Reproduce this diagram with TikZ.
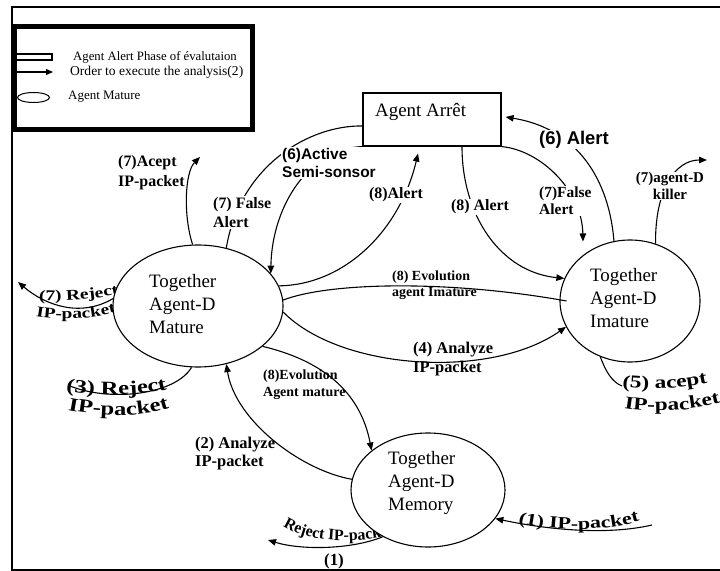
\documentclass[tikz,border=0pt]{standalone}
\usepackage{fontspec}
\setmainfont{Liberation Serif}
\newfontfamily\lsans{Liberation Sans}
\newfontfamily\wideserif[FakeStretch=1.3]{Liberation Serif}
\usetikzlibrary{arrows.meta,shapes.geometric,decorations.text}
\begin{document}
\begin{tikzpicture}[x=1bp,y=-1bp,
  every node/.style={inner sep=1bp},
  ln/.style={draw, line width=1.1bp},
  conn/.style={ln, -{Triangle[length=8bp,width=6.5bp]}},
  oval/.style={draw, ellipse, line width=1.1bp, fill=white, inner sep=0pt},
  nodetext/.style={font=\fontsize{19}{23}\selectfont, align=left, anchor=west},
  lbl/.style={font=\bfseries\fontsize{16}{19}\selectfont, align=left},
  wlbl/.style={lbl, fill=white},
  legtext/.style={anchor=west, font=\fontsize{13}{14}\selectfont},
]
\useasboundingbox (0,0) rectangle (720,571);
% outer frame
\draw[line width=2bp] (720,7.5) -- (12,7.5) -- (12,570) -- (720,570);

% warped texts (drawn before the ovals that hide their ends)
\path[decorate, decoration={text along path, text={|\wideserif\bfseries\fontsize{15}{15}\selectfont|(7) Reject}}]
  (39,300) .. controls (65,302) and (100,300) .. (135,290);
\path[decorate, decoration={text along path, text={|\wideserif\bfseries\fontsize{15}{15}\selectfont|IP-packet}}]
  (36,316) .. controls (65,321) and (100,320) .. (135,306);
\path[decorate, decoration={text along path, text={|\bfseries\fontsize{16}{16}\selectfont|Reject IP-packet}}]
  (283,526) .. controls (305,541) and (350,546) .. (400,533);

% ovals
\node[oval, minimum width=170bp, minimum height=122bp] (mat) at (198,306) {};
\node[oval, minimum width=140bp, minimum height=122bp] (ima) at (630,301) {};
\node[oval, minimum width=154bp, minimum height=114bp] (mem) at (428,490) {};
\node[nodetext] (matT) at (148,304) {Together\\Agent-D\\Mature};
\node[nodetext] (imaT) at (589,298) {Together\\Agent-D\\Imature};
\node[nodetext] (memT) at (387,483) {Together\\Agent-D\\Memory};

% Agent Arret box
\node[draw, line width=1.2bp, minimum width=138bp, minimum height=53bp, inner sep=0pt] (stop) at (432,119.5) {};
\node[anchor=west, font=\fontsize{19}{21}\selectfont] (stopT) at (374,112) {Agent Arrêt};

% other warped texts
\path[decorate, decoration={text along path, text={|\wideserif\bfseries\fontsize{19}{19}\selectfont|(3) Reject}}]
  (66,391) .. controls (110,397) and (160,397) .. (192,380);
\path[decorate, decoration={text along path, text={|\wideserif\bfseries\fontsize{19}{19}\selectfont|IP-packet}}]
  (68,410) .. controls (110,418) and (150,418) .. (185,402);
\path[decorate, decoration={text along path, text={|\wideserif\bfseries\fontsize{18}{18}\selectfont|(5) acept}}]
  (622,387) .. controls (655,391) and (695,389) .. (735,376);
\path[decorate, decoration={text along path, text={|\wideserif\bfseries\fontsize{18}{18}\selectfont|IP-packet}}]
  (624,408) .. controls (660,414) and (700,411) .. (745,396);
\path[decorate, decoration={text along path, text={|\wideserif\bfseries\fontsize{17}{17}\selectfont|(1) IP-packet}}]
  (518,523) .. controls (560,532) and (615,533) .. (660,514);
\node[lbl, font=\bfseries\fontsize{17}{19}\selectfont] (one) at (334,561) {(1)};

% free ends
\coordinate (aceptEnd) at (200,157);
\coordinate (rej7End) at (18,282);
\coordinate (rej3End) at (70,386);
\coordinate (acept5End) at (622,386);
\coordinate (ip1Start) at (652,525);
\coordinate (rej1End) at (268,540);
\coordinate (killEnd) at (707,160);

% connectors
\draw[conn] (mat.95) .. controls (183,215) and (185,172) .. (aceptEnd);
\draw[ln] ([yshift=-6.5bp]stop.west) .. controls (310,125) and (240,165) .. (mat.64);
\draw[conn] (stop.south west) .. controls (310,148) and (272,205) .. (mat.24);
\draw[conn] (mat.14) .. controls (345,285) and (400,230) .. ([xshift=-14bp,yshift=-7bp]stop.south);
\draw[ln] (mat.4) .. controls (330,282) and (450,280) .. ([xshift=7bp]ima.west);
\draw[conn] (mat.-4) .. controls (340,370) and (490,380) .. (ima.202);
\draw[conn] (mat.-32) .. controls (320,360) and (360,390) .. (mem.145);
\draw[conn] (mem.172) .. controls (300,470) and (235,420) .. (mat.-64);
\draw[conn] (mat.175) .. controls (80,318) and (45,305) .. (rej7End);
\draw[ln] (mat.-96) .. controls (175,395) and (110,402) .. (rej3End);
\draw[ln] (ima.-118) .. controls (606,372) and (612,382) .. (acept5End);
\draw[conn] (ip1Start) .. controls (600,537) and (535,527) .. (mem.-23);
\draw[conn] (mem.-134) .. controls (350,550) and (300,550) .. (rej1End);
\draw[conn] ([xshift=30bp]stop.south) .. controls (462,215) and (500,272) .. (ima.161);
\draw[conn] (stop.south east) .. controls (540,150) and (582,190) .. ([xshift=-47bp,yshift=-2bp]ima.north);
\draw[conn] (ima.105) .. controls (610,190) and (585,130) .. ([xshift=4bp,yshift=2.5bp]stop.east);
\draw[conn] (ima.66) .. controls (655,190) and (675,160) .. (killEnd);

% labels
\node[lbl, anchor=west, font=\bfseries\fontsize{16}{20}\selectfont] (lAcept) at (117,173) {(7)Acept\\IP-packet};
\node[wlbl, anchor=west] (lFalseL) at (212,212.5) {(7) False\\Alert};
\node[lbl, anchor=west, fill=white, font=\lsans\bfseries\fontsize{15.5}{18.5}\selectfont] (lActive) at (281,163) {(6)Active\\Semi-sonsor};
\node[wlbl] (lAlertL) at (396,195) {(8)Alert};
\node[wlbl] (lAlertR) at (480,207) {(8) Alert};
\node[wlbl, anchor=west, font=\bfseries\fontsize{15.5}{17.5}\selectfont] (lFalseR) at (538,201) {(7)False\\Alert};
\node[lbl, fill=white, font=\lsans\bfseries\fontsize{18.5}{20}\selectfont] (lAlert6) at (574,139.5) {(6) Alert};
\node[wlbl, align=center, font=\bfseries\fontsize{15}{16.5}\selectfont] (lKill) at (670,186) {(7)agent-D\\killer};
\node[lbl, anchor=west, font=\bfseries\fontsize{14}{16.5}\selectfont] (lEvoI) at (391,285) {(8) Evolution\\agent Imature};
\node[lbl, anchor=west, font=\bfseries\fontsize{16.5}{19}\selectfont] (lAn4) at (412,359.5) {(4) Analyze\\IP-packet};
\node[lbl, anchor=west, font=\bfseries\fontsize{14}{17}\selectfont] (lEvoM) at (262,384.5) {(8)Evolution\\Agent mature};
\node[lbl, anchor=west, font=\bfseries\fontsize{16.5}{18}\selectfont] (lAn2) at (194,454) {(2) Analyze\\IP-packet};

% legend
\draw[line width=1.8bp] (13,54) rectangle (52,60);
\coordinate (legA) at (13,72);
\coordinate (legB) at (53,72);
\draw[line width=1.2bp, -{Triangle[length=7bp,width=6bp]}] (legA) -- (legB);
\draw[line width=1bp] (33.5,97.5) ellipse [x radius=16, y radius=5];
\node[legtext, font=\fontsize{12.8}{14}\selectfont] (lg1) at (72,57) {Agent Alert Phase of évalutaion};
\node[legtext, font=\fontsize{13.6}{14}\selectfont] (lg2) at (69,72) {Order to execute the analysis(2)};
\node[legtext] (lg3) at (67,97) {Agent Mature};
\draw[line width=5bp] (14.5,27) rectangle (252,129.5);
\end{tikzpicture}
\end{document}
